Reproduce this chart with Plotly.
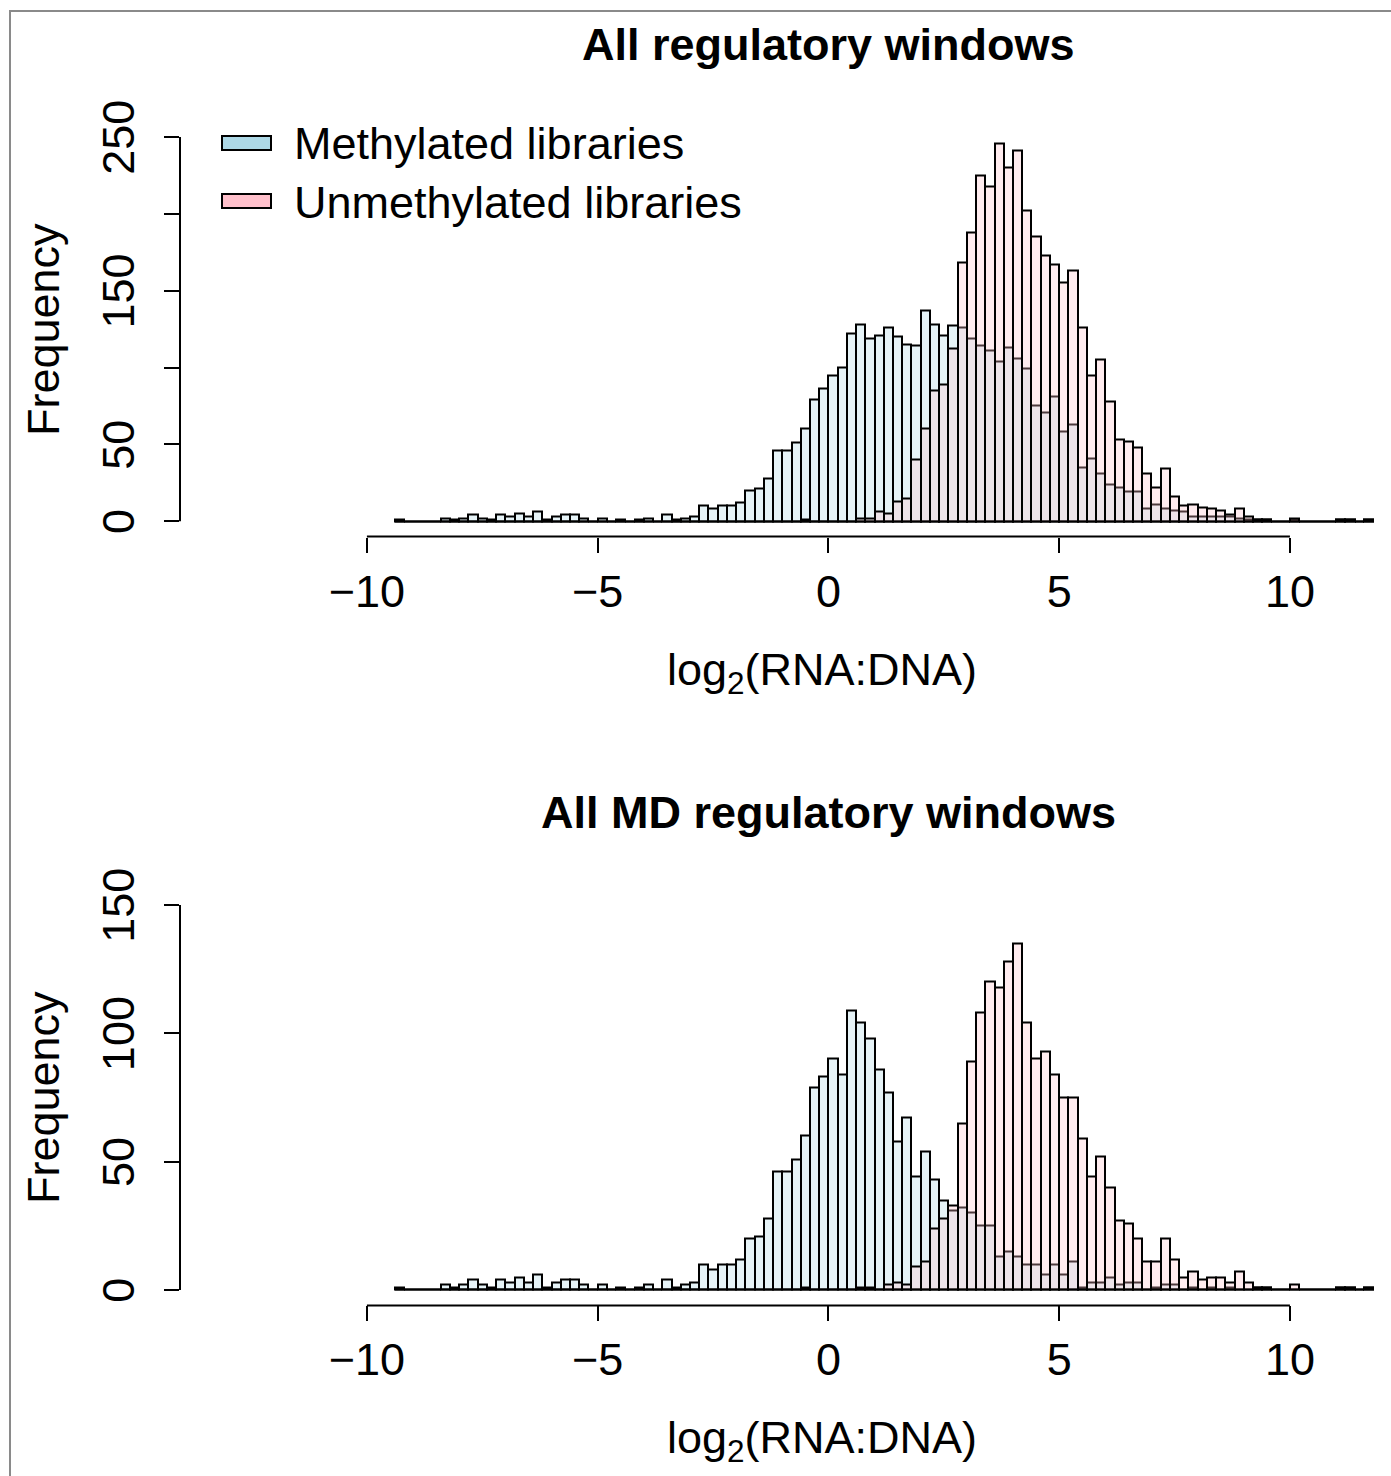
import numpy as np
import plotly.graph_objects as go

W, H = 1391, 1476

# Histogram bins: width 0.2, first bin starts at -9.4 (106 bins up to 11.8)
bin_start = -9.4
bin_width = 0.2

all_methylated = [
    1, 0, 0, 0, 0, 2, 1, 2, 4, 2,
    1, 4, 3, 5, 3, 6, 1, 3, 4, 4,
    2, 0, 2, 0, 1, 0, 1, 2, 0, 4,
    1, 2, 3, 10, 8, 10, 10, 12, 20, 21,
    28, 46, 46, 51, 60, 79, 86, 95, 100, 122,
    128, 119, 121, 126, 120, 115, 114, 137, 128, 121,
    127, 126, 119, 114, 111, 104, 113, 106, 99, 75,
    71, 81, 58, 63, 35, 41, 31, 24, 22, 19,
    19, 8, 11, 8, 7, 6, 3, 3, 3, 3,
    3, 2, 1, 1, 1, 0, 0, 1, 0, 0,
    0, 0, 1, 1, 0, 1,
]
all_unmethylated = [
    0, 0, 0, 0, 0, 0, 0, 0, 0, 0,
    0, 0, 0, 0, 0, 0, 0, 0, 0, 0,
    0, 0, 0, 0, 0, 0, 0, 0, 0, 0,
    0, 0, 0, 0, 0, 0, 0, 0, 0, 0,
    0, 0, 0, 0, 1, 0, 0, 0, 0, 0,
    2, 2, 6, 5, 13, 15, 40, 60, 85, 89,
    112, 168, 188, 225, 218, 246, 230, 241, 202, 185,
    173, 167, 155, 163, 126, 95, 105, 78, 53, 52,
    48, 31, 22, 34, 16, 10, 11, 9, 8, 7,
    4, 8, 3, 1, 1, 0, 0, 2, 0, 0,
    0, 0, 1, 1, 0, 1,
]
md_methylated = [
    1, 0, 0, 0, 0, 2, 1, 2, 4, 2,
    1, 4, 3, 5, 3, 6, 1, 3, 4, 4,
    2, 0, 2, 0, 1, 0, 1, 2, 0, 4,
    1, 2, 3, 10, 8, 10, 10, 12, 20, 21,
    28, 46, 46, 51, 60, 79, 83, 90, 84, 109,
    104, 98, 86, 77, 58, 67, 44, 54, 43, 35,
    31, 32, 30, 25, 25, 13, 15, 13, 10, 10,
    6, 10, 6, 11, 1, 3, 3, 5, 2, 3,
    3, 0, 1, 2, 2, 0, 1, 0, 1, 0,
    1, 0, 0, 1, 1, 0, 0, 0, 0, 0,
    0, 0, 1, 1, 0, 1,
]
md_unmethylated = [
    0, 0, 0, 0, 0, 0, 0, 0, 0, 0,
    0, 0, 0, 0, 0, 0, 0, 0, 0, 0,
    0, 0, 0, 0, 0, 0, 0, 0, 0, 0,
    0, 0, 0, 0, 0, 0, 0, 0, 0, 0,
    0, 0, 0, 0, 1, 0, 0, 0, 0, 0,
    1, 1, 0, 2, 3, 2, 9, 11, 24, 28,
    33, 65, 89, 108, 120, 118, 128, 135, 104, 90,
    93, 84, 75, 75, 59, 44, 52, 40, 27, 26,
    20, 11, 11, 20, 12, 5, 7, 4, 5, 5,
    3, 7, 3, 1, 1, 0, 0, 2, 0, 0,
    0, 0, 1, 1, 0, 1,
]

titles = ["All regulatory windows", "All MD regulatory windows"]
legend_labels = ["Methylated libraries", "Unmethylated libraries"]
x_tickvals = [-10, -5, 0, 5, 10]
x_ticktext = ["\u221210", "\u22125", "0", "5", "10"]
y1_tickvals = [0, 50, 150, 250]          # labelled ticks (R drops 100, 200)
y1_minor_tickvals = [100, 200]           # unlabelled ticks
y2_tickvals = [0, 50, 100, 150]

METH_FILL = "rgba(173,216,230,0.3)"
UNMETH_FILL = "rgba(255,192,203,0.3)"
METH_SOLID = "rgb(173,216,230)"
UNMETH_SOLID = "rgb(255,192,203)"
FONT = "Liberation Sans, Arial, Helvetica, sans-serif"
FS = 45

n_bins = len(all_methylated)
centers = bin_start + bin_width * (np.arange(n_bins) + 0.5)

fig = go.Figure()
panels = [
    (all_methylated, all_unmethylated, "x", "y"),
    (md_methylated, md_unmethylated, "x2", "y2"),
]
for meth, unmeth, xa, ya in panels:
    for vals, fill in [(meth, METH_FILL), (unmeth, UNMETH_FILL)]:
        fig.add_trace(go.Bar(
            x=centers, y=vals, width=bin_width, xaxis=xa, yaxis=ya,
            marker=dict(color=fill, line=dict(color="black", width=2)),
            showlegend=False, hoverinfo="skip",
        ))

def px_x(p):
    return p / W

def px_y(p):
    return 1 - p / H

# plot regions in pixels
xdom = [px_x(180), 1.0]
xrange = [-14.05, 12.19]
top_dom = [px_y(536.6), px_y(121.6)]
bot_dom = [px_y(1305.4), px_y(889.6)]

axis_common = dict(showgrid=False, zeroline=False, showline=False, automargin=False,
                   ticks="outside", ticklen=15, tickwidth=2, tickcolor="black",
                   tickfont=dict(family=FONT, size=FS, color="black"))
minor_common = dict(ticks="outside", ticklen=15, tickwidth=2, tickcolor="black", showgrid=False)

fig.update_layout(
    template="none",
    width=W, height=H,
    margin=dict(l=0, r=0, t=0, b=0, pad=0, autoexpand=False),
    paper_bgcolor="white", plot_bgcolor="white",
    barmode="overlay", bargap=0,
    showlegend=False,
    xaxis=dict(domain=xdom, range=xrange, anchor="y", tickvals=x_tickvals,
               ticktext=x_ticktext, ticklabelstandoff=0, **axis_common),
    yaxis=dict(domain=top_dom, range=[-10, 260], anchor="x", tickvals=y1_tickvals,
               tickangle=-90, ticklabelstandoff=12, ticklabelshift=7,
               minor=dict(tickvals=y1_minor_tickvals, **minor_common), **axis_common),
    xaxis2=dict(domain=xdom, range=xrange, anchor="y2", tickvals=x_tickvals,
                ticktext=x_ticktext, ticklabelstandoff=0, **axis_common),
    yaxis2=dict(domain=bot_dom, range=[-6, 156], anchor="x2", tickvals=y2_tickvals,
                tickangle=-90, ticklabelstandoff=12, ticklabelshift=7, **axis_common),
)

shapes = []
# R-style axis lines spanning only the tick range
for xa, ya, ymax in [("x", "y", 250), ("x2", "y2", 150)]:
    shapes.append(dict(type="line", xref=xa, yref=ya + " domain", x0=-10, x1=10, y0=0, y1=0,
                       line=dict(color="black", width=2)))
    shapes.append(dict(type="line", xref=xa + " domain", yref=ya, x0=0, x1=0, y0=0, y1=ymax,
                       line=dict(color="black", width=2)))
# figure frame
shapes.append(dict(type="rect", xref="paper", yref="paper", x0=px_x(10), x1=px_x(1420),
                   y0=px_y(1500), y1=px_y(11), line=dict(color="#8a8a8a", width=2),
                   fillcolor="rgba(0,0,0,0)"))
# legend swatches
for (y0, y1), col in [((136, 150), METH_SOLID), ((194, 208), UNMETH_SOLID)]:
    shapes.append(dict(type="rect", xref="paper", yref="paper", x0=px_x(222), x1=px_x(271),
                       y0=px_y(y1), y1=px_y(y0), line=dict(color="black", width=2),
                       fillcolor=col))
fig.update_layout(shapes=shapes)

ann = []
for t, yc in [(titles[0], 44), (titles[1], 812)]:
    ann.append(dict(text="<b>" + t + "</b>", x=px_x(828.5), y=px_y(yc), xref="paper", yref="paper",
                    xanchor="center", yanchor="middle", showarrow=False,
                    font=dict(family=FONT, size=FS, color="black")))
for yc in [330, 1098]:
    ann.append(dict(text="Frequency", x=px_x(43), y=px_y(yc), xref="paper", yref="paper",
                    xanchor="center", yanchor="middle", textangle=-90, showarrow=False,
                    font=dict(family=FONT, size=FS, color="black")))
for yc in [672, 1440]:
    ann.append(dict(text="log<sub>2</sub>(RNA:DNA)", x=px_x(822), y=px_y(yc), xref="paper", yref="paper",
                    xanchor="center", yanchor="middle", showarrow=False,
                    font=dict(family=FONT, size=FS, color="black")))
for lab, yc in zip(legend_labels, [143, 202]):
    ann.append(dict(text=lab, x=px_x(292), y=px_y(yc), xref="paper", yref="paper",
                    xanchor="left", yanchor="middle", showarrow=False,
                    font=dict(family=FONT, size=FS, color="black")))
fig.update_layout(annotations=ann)

fig.write_html("out.html")
